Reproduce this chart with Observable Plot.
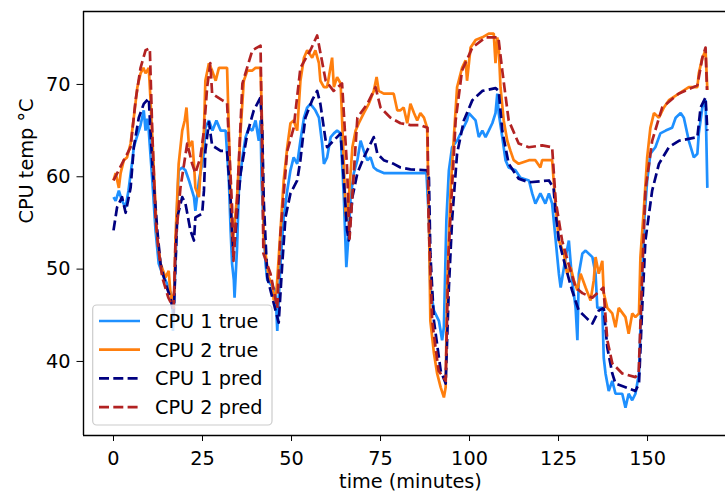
<!DOCTYPE html>
<html>
<head>
<meta charset="utf-8">
<script src="https://cdn.jsdelivr.net/npm/d3@7"></script>
<script src="https://cdn.jsdelivr.net/npm/@observablehq/plot@0.6"></script>
<style>
  html, body { margin: 0; padding: 0; background: white; }
  #chart svg { display: block; }
</style>
</head>
<body>
<div id="chart"></div>
<script>
// ---- Data ----
const xTicks = [0, 25, 50, 75, 100, 125, 150];
const yTicks = [40, 50, 60, 70];
const seriesNames = ["CPU 1 true", "CPU 2 true", "CPU 1 pred", "CPU 2 pred"];
const seriesColors = ["#1e90ff", "#ff7f0e", "#000080", "#b22222"];

const cpu1TrueTime = [0,0.6,1.5,2.4,3.4,4.2,5.3,5.7,6.7,7.6,8.5,9.0,9.5,9.9,10.9,11.8,12.7,13.7,14.6,15.5,16.5,16.7,17.4,17.9,18.3,19.3,20.2,21.2,22.6,23.0,24.0,25.4,25.8,26.8,27.8,28.9,30.1,31.5,32.4,32.9,33.3,33.8,34.0,34.7,35.2,36.2,37.1,38.0,39.0,39.9,40.8,41.3,41.6,42.2,42.7,43.2,44.1,45.5,46.0,46.9,47.8,48.8,49.7,50.6,51.6,52.5,53.5,54.4,55.3,56.7,57.7,58.6,59.1,60.0,61.0,61.9,62.8,63.8,64.7,65.2,65.4,66.1,66.6,67.5,68.5,69.4,70.3,71.3,72.2,73.1,74.1,75.9,80.6,87.9,88.6,89.0,90.0,91.4,92.3,92.8,93.5,94.2,95.1,96.5,97.9,99.3,99.8,101.7,102.6,103.6,104.5,105.4,106.4,107.3,107.8,108.2,109.2,110.1,111.0,112.9,114.3,116.7,117.6,118.5,119.9,121.3,122.3,123.2,124.2,125.1,125.6,127.0,127.9,128.8,129.8,130.3,130.7,131.7,132.6,134.5,135.4,135.9,137.3,137.7,138.2,139.1,140.1,141.0,142.9,143.8,144.7,145.7,146.6,147.6,148.5,149.0,149.9,150.8,152.2,153.6,155.1,156.9,157.9,159.3,160.2,161.6,163.0,164.0,164.4,165.4,166.3,166.8];
const cpu1TrueTemp = [57.8,57.4,58.5,57.4,56.7,58.5,61.8,63.2,64.5,65.6,67.2,65.0,66.3,65.0,59.6,54.2,50.6,49.5,48.8,48.0,46.9,43.3,50.6,57.1,60.7,61.0,60.7,59.6,57.8,56.3,59.6,62.5,65.3,66.1,65.0,66.1,65.0,65.0,59.6,54.2,50.6,48.8,46.9,52.3,58.5,62.1,64.3,65.3,65.0,66.1,63.9,66.1,59.6,54.2,50.6,48.8,48.4,47.7,43.3,50.6,55.6,58.5,60.7,62.1,61.4,63.9,66.4,67.5,67.9,67.2,66.4,63.6,61.4,62.1,64.3,64.7,65.0,64.7,57.8,52.3,50.2,54.2,57.8,60.4,61.8,63.9,62.8,61.8,62.1,61.0,60.7,60.4,60.4,60.4,55.3,48.0,45.5,44.4,42.3,43.7,55.3,60.7,63.2,63.9,65.0,66.1,66.9,66.1,64.3,65.0,64.3,65.0,65.8,66.9,69.0,66.9,64.3,61.8,61.0,60.7,59.9,59.6,58.2,57.1,58.2,57.1,58.2,57.1,53.1,49.5,48.0,51.3,53.1,48.8,45.8,42.3,49.5,51.7,52.0,51.3,49.5,45.8,45.8,40.4,38.7,36.8,37.9,36.5,36.5,35.0,36.5,35.8,36.5,38.7,49.5,54.9,59.6,62.5,63.2,64.7,65.0,65.3,66.4,66.9,66.4,63.9,62.1,62.5,64.7,67.5,68.3,58.8];

const cpu2TrueTime = [0,0.6,1.5,2.0,2.9,3.8,4.8,5.7,6.7,7.6,8.4,9.0,9.9,10.4,11.2,12.1,13.2,14.6,15.5,16.0,16.5,17.1,17.4,17.9,18.3,19.3,20.0,20.5,21.2,22.1,22.6,23.0,24.0,24.4,25.4,25.8,26.8,27.7,28.7,29.6,31.9,32.4,32.9,33.4,34.7,35.7,36.6,37.6,39.0,39.9,41.3,41.8,42.2,43.6,44.6,45.0,45.8,46.9,47.8,48.8,49.7,50.6,51.6,52.5,53.5,54.4,55.8,56.7,57.7,58.1,59.1,60.0,61.4,61.9,62.8,63.8,64.7,65.2,65.6,66.1,67.1,68.0,68.9,70.3,71.7,73.1,73.9,74.5,75.9,78.7,79.7,80.6,81.5,82.5,83.4,84.4,85.3,86.2,87.2,88.1,88.6,89.0,90.0,90.9,91.9,92.8,93.3,93.7,94.7,95.6,96.5,97.9,98.9,99.3,100.3,101.7,103.6,105.4,106.8,107.3,107.8,108.2,108.7,109.6,110.6,111.5,112.4,113.8,116.7,118.5,119.9,120.4,123.2,124.2,125.1,126.5,127.4,128.4,129.3,130.3,131.2,132.6,134.0,134.9,135.4,136.3,137.3,137.7,138.7,140.1,141.0,141.9,143.8,144.7,145.7,146.6,147.6,148.0,149.0,149.9,150.8,151.8,153.2,154.6,156.0,158.8,161.6,164.0,164.4,165.4,166.3,166.8];
const cpu2TrueTemp = [59.6,60.4,58.8,60.4,61.8,62.1,63.6,66.4,69.7,71.2,71.8,71.2,71.8,68.3,61.8,54.2,50.6,49.1,49.8,47.4,46.3,47.7,53.4,57.8,61.4,65.0,66.1,67.5,63.2,63.9,61.4,58.8,57.8,60.4,65.0,70.4,72.3,71.5,70.4,71.8,71.8,65.0,57.8,52.6,57.8,65.0,70.4,71.5,71.5,71.8,71.8,64.7,53.1,49.1,48.4,46.6,47.7,54.2,59.6,63.2,65.8,66.1,65.0,70.4,72.9,73.7,72.9,73.7,72.3,70.4,69.7,69.7,72.9,69.7,70.8,70.1,61.4,56.0,55.3,57.8,63.2,65.0,65.8,66.9,67.9,69.3,70.8,69.3,69.0,69.0,67.2,67.2,67.5,65.8,67.9,66.9,66.1,66.9,66.4,65.3,55.3,44.4,40.9,38.7,37.2,36.1,37.2,48.0,58.8,64.3,69.7,71.8,72.6,70.4,74.0,74.8,75.1,75.5,75.5,72.3,75.1,74.0,69.7,66.1,63.9,62.8,61.8,61.4,61.8,61.8,61.0,61.8,61.8,56.7,53.1,51.7,49.5,50.2,48.8,47.7,49.5,48.0,46.6,48.8,51.3,49.5,50.9,47.4,45.8,45.2,43.7,45.8,44.8,43.0,45.2,44.8,45.2,51.3,56.7,62.1,65.3,66.9,66.4,67.5,68.3,69.0,69.7,69.7,71.2,72.9,73.7,69.4];

const cpu1PredTime = [0,1.0,2.4,3.4,4.8,5.7,7.1,8.5,9.9,10.9,12.3,13.2,14.6,16.0,16.9,17.9,19.3,20.2,21.6,22.6,23.0,24.9,25.4,25.8,26.8,27.7,30.1,31.9,32.9,33.3,33.7,35.7,37.6,39.4,41.3,41.8,42.2,43.2,45.0,46.4,47.4,48.3,49.7,51.6,52.5,53.1,53.9,55.8,57.2,58.1,59.6,60.0,62.8,63.8,64.7,65.6,66.1,67.1,68.5,70.3,72.2,73.1,74.1,75.9,78.7,80.6,83.4,88.1,88.6,89.0,90.0,91.9,93.3,94.2,95.1,96.5,98.4,100.8,103.6,107.3,108.2,109.2,111.0,113.8,116.7,122.3,123.6,124.2,125.1,127.0,128.8,130.7,132.6,134.5,136.3,137.7,138.7,140.1,141.0,143.8,146.6,147.6,148.5,149.4,151.3,153.2,156.0,158.8,164.0,164.9,166.3,166.8];
const cpu1PredTemp = [54.2,56.7,57.8,56.1,58.8,63.2,66.4,67.9,68.5,61.4,54.2,50.6,48.4,46.9,45.0,55.6,57.8,57.1,54.2,53.1,55.6,56.0,58.5,62.8,65.9,63.4,62.8,62.8,57.4,53.9,51.4,60.4,64.7,67.2,68.6,64.7,57.4,49.1,46.3,44.2,50.6,55.6,58.2,59.6,61.8,63.9,66.4,68.3,69.3,67.9,63.9,63.2,64.3,64.7,59.6,54.2,53.1,57.8,60.4,62.1,63.6,64.3,62.5,61.8,61.4,61.0,60.8,60.7,59.9,51.7,44.4,39.0,37.6,48.0,55.3,62.5,66.1,68.3,69.3,69.6,69.3,65.0,61.4,59.8,59.4,59.6,58.8,56.0,53.1,50.2,47.7,45.5,44.8,44.1,45.5,45.8,41.5,38.7,37.6,37.2,36.8,37.6,45.8,53.1,58.5,61.4,63.2,63.9,64.3,67.5,68.6,65.0];

const cpu2PredTime = [0,2.9,4.8,6.2,7.6,9.0,10.2,10.9,11.8,12.6,13.7,15.4,16.9,17.4,18.8,20.7,22.1,23.0,24.4,25.4,26.3,27.2,27.7,30.5,31.9,33.3,33.7,34.7,36.2,39.0,41.3,41.8,42.1,44.1,46.0,46.9,48.8,50.6,52.5,55.3,57.2,59.6,61.8,64.2,65.6,66.3,68.5,71.3,73.6,75.0,77.8,80.6,83.4,86.2,88.2,88.5,89.5,91.3,93.3,94.1,96.1,97.9,100.8,104.5,108.1,109.2,111.0,113.8,116.6,120.4,123.2,124.2,126.0,127.8,129.8,131.7,134.5,137.6,138.7,140.1,142.9,146.6,147.5,148.5,149.4,151.3,154.1,158.7,164.0,165.4,166.3,166.7];
const cpu2PredTemp = [59.6,61.8,63.2,68.3,71.8,73.7,73.9,64.7,55.6,52.2,49.1,46.9,45.8,52.8,58.8,63.6,61.4,60.4,62.1,65.0,69.7,72.3,69.0,68.3,68.0,56.7,50.9,57.4,70.1,73.7,74.2,61.0,51.7,49.5,45.8,53.9,62.8,65.3,71.8,73.7,75.3,70.4,69.3,70.1,61.0,53.3,66.4,67.9,69.7,67.5,66.4,65.8,65.6,65.6,65.3,55.3,44.4,39.0,37.9,51.7,66.1,71.5,74.0,75.1,75.1,71.5,66.1,63.6,63.2,63.4,63.2,57.4,53.1,50.6,48.0,47.4,46.9,48.0,42.3,39.8,38.7,38.3,38.7,49.5,58.5,63.9,67.5,69.0,69.9,72.9,74.0,69.4];

// ---- Build tables ----
const toRows = (ts, vs) => ts.map((t, i) => ({t, v: vs[i]}));
const cpu1True = toRows(cpu1TrueTime, cpu1TrueTemp);
const cpu2True = toRows(cpu2TrueTime, cpu2TrueTemp);
const cpu1Pred = toRows(cpu1PredTime, cpu1PredTemp);
const cpu2Pred = toRows(cpu2PredTime, cpu2PredTemp);

const xDomain = [-8.43, 171.9];
const yDomain = [31.98, 77.9];
const FONT = 19.3;
const LW = 2.7;
const DASH = "10,4.3";

const chart = Plot.plot({
  width: 725,
  height: 495,
  marginLeft: 83,
  marginRight: 0,
  marginTop: 11,
  marginBottom: 60,
  style: {fontFamily: "'DejaVu Sans', sans-serif", fontSize: FONT + "px", background: "white", color: "black", overflow: "visible"},
  x: {domain: xDomain, ticks: xTicks, tickSize: 6, tickPadding: 9.5, label: null, tickFormat: d => String(d)},
  y: {domain: yDomain, ticks: yTicks, tickSize: 6.5, tickPadding: 6.5, label: null, tickFormat: d => String(d)},
  marks: [
    Plot.line(cpu1True, {x: "t", y: "v", stroke: seriesColors[0], strokeWidth: LW, strokeLinejoin: "miter", strokeLinecap: "butt"}),
    Plot.line(cpu2True, {x: "t", y: "v", stroke: seriesColors[1], strokeWidth: LW, strokeLinejoin: "miter", strokeLinecap: "butt"}),
    Plot.line(cpu1Pred, {x: "t", y: "v", stroke: seriesColors[2], strokeWidth: LW, strokeDasharray: DASH, strokeLinecap: "butt"}),
    Plot.line(cpu2Pred, {x: "t", y: "v", stroke: seriesColors[3], strokeWidth: LW, strokeDasharray: DASH, strokeLinecap: "butt"}),
    Plot.ruleX([xDomain[0]], {stroke: "black", strokeWidth: 1.4}),
    Plot.ruleY([yDomain[0]], {stroke: "black", strokeWidth: 1.4}),
    Plot.ruleY([yDomain[1]], {stroke: "black", strokeWidth: 1.4}),
    Plot.text(["time (minutes)"], {frameAnchor: "bottom", dx: 6, dy: 52.5, fontSize: FONT, fill: "black"}),
    Plot.text(["CPU temp °C"], {frameAnchor: "left", dx: -57, rotate: -90, fontSize: FONT, fill: "black"})
  ]
});

document.getElementById("chart").appendChild(chart);

// ---- Legend drawn inside the axes (lower-left) ----
const svg = d3.select(chart);
const lg = svg.append("g")
  .attr("font-family", "'DejaVu Sans', sans-serif")
  .attr("font-size", FONT)
  .attr("text-anchor", "start");
const box = {x: 92.7, y: 305, w: 179.3, h: 120};
lg.append("rect")
  .attr("x", box.x).attr("y", box.y).attr("width", box.w).attr("height", box.h)
  .attr("rx", 4).attr("ry", 4)
  .attr("fill", "white").attr("fill-opacity", 0.8)
  .attr("stroke", "#cccccc").attr("stroke-width", 1.2);
const dashes = [null, null, DASH, DASH];
seriesNames.forEach((name, i) => {
  const cy = 321 + i * 28.7;
  lg.append("line")
    .attr("x1", 99).attr("x2", 140).attr("y1", cy).attr("y2", cy)
    .attr("stroke", seriesColors[i]).attr("stroke-width", LW)
    .attr("stroke-dasharray", dashes[i]);
  lg.append("text")
    .attr("x", 155).attr("y", cy).attr("dy", "0.36em")
    .attr("text-anchor", "start")
    .attr("fill", "black")
    .text(name);
});
</script>
</body>
</html>
